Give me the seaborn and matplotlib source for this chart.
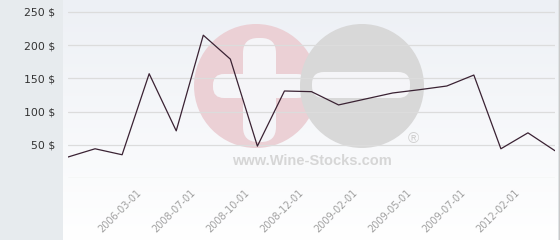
import numpy as np
import pandas as pd
import matplotlib
matplotlib.use("Agg")
import matplotlib.pyplot as plt
import matplotlib.transforms as mtransforms
from matplotlib.patches import Circle, FancyBboxPatch
from matplotlib.colors import LinearSegmentedColormap
import seaborn as sns

# ---- data ----
values = [31.6, 44, 35, 157, 71, 215, 179, 48, 131, 130, 110, 119, 128, 133, 138.5, 155, 44, 68, 41]
tick_labels = ["2006-03-01", "2008-07-01", "2008-10-01", "2008-12-01",
               "2009-02-01", "2009-05-01", "2009-07-01", "2012-02-01"]
tick_index = [3, 5, 7, 9, 11, 13, 15, 17]
y_ticks = [50, 100, 150, 200, 250]

df = pd.DataFrame({"idx": np.arange(len(values)), "price": values})

sns.set_theme(style="white")
plt.rcParams["font.family"] = ["DejaVu Sans"]

W, H = 560, 240
fig = plt.figure(figsize=(W / 100, H / 100), dpi=100)
fig.patch.set_facecolor("#e7ebee")

# background panel with gradient
bg = fig.add_axes([63 / W, 0, (558 - 63) / W, 1])
bg.set_axis_off()
grad = np.linspace(0, 1, 256).reshape(-1, 1)
cmap = LinearSegmentedColormap.from_list("g", ["#edf0f5", "#ffffff"])
bg.imshow(grad, aspect="auto", cmap=cmap, extent=[0, 1, 0, 1], origin="upper")
bg.set_xlim(0, 1)
bg.set_ylim(0, 1)
fig.add_artist(plt.Line2D([558.5 / W, 558.5 / W], [0, 1], color="#c8c8c8", lw=1))

# watermark (pixel coords in figure)
wm = fig.add_axes([0, 0, 1, 1])
wm.set_axis_off()
wm.set_xlim(0, W)
wm.set_ylim(H, 0)
white = "#f5f5f8"
wm.add_patch(Circle((256, 86), 62, color="#ebd0d5", lw=0))
wm.add_patch(FancyBboxPatch((243, 38), 33, 104, boxstyle="round,pad=0,rounding_size=15", color=white, lw=0))
wm.add_patch(FancyBboxPatch((213, 74), 95, 24, boxstyle="round,pad=0,rounding_size=11", color=white, lw=0))
wm.add_patch(Circle((362, 86), 62, color="#d8d8d8", lw=0))
wm.add_patch(FancyBboxPatch((312, 72), 98, 26, boxstyle="round,pad=0,rounding_size=12", color=white, lw=0))
wm.text(312, 161, "www.Wine-Stocks.com", ha="center", va="center", fontsize=10.5,
        fontweight="bold", color="#d6d6d6", family="Liberation Sans")
wm.text(413, 139, "®", ha="center", va="center", fontsize=11, color="#d0d0d0",
        family="Liberation Sans")

# main axes
ax = fig.add_axes([68 / W, (H - 178) / H, (555 - 68) / W, 178 / H])
ax.patch.set_alpha(0)
sns.lineplot(data=df, x="idx", y="price", ax=ax, color="#3a2233", lw=0.9)
ax.set_xlim(0, len(values) - 1)
ax.set_ylim(0, 268)
ax.set_yticks([0] + y_ticks)
ax.set_yticklabels([""] + [f"{v} $" for v in y_ticks])
ax.yaxis.grid(True, color="#dcdcdc", lw=0.9)
ax.set_axisbelow(True)
for s in ax.spines.values():
    s.set_visible(False)
ax.tick_params(axis="y", length=0, pad=9, labelsize=7.8, labelcolor="#333333")
ax.set_xlabel("")
ax.set_ylabel("")
ax.set_xticks(tick_index)
ax.set_xticklabels(tick_labels, rotation=45, ha="right", fontsize=7, color="#a0a0a0")
ax.tick_params(axis="x", length=0, pad=7)
off = mtransforms.ScaledTranslation(-6 / 100, 0, fig.dpi_scale_trans)
for lbl in ax.get_xticklabels():
    lbl.set_transform(lbl.get_transform() + off)

fig.savefig("out.png", dpi=100)
